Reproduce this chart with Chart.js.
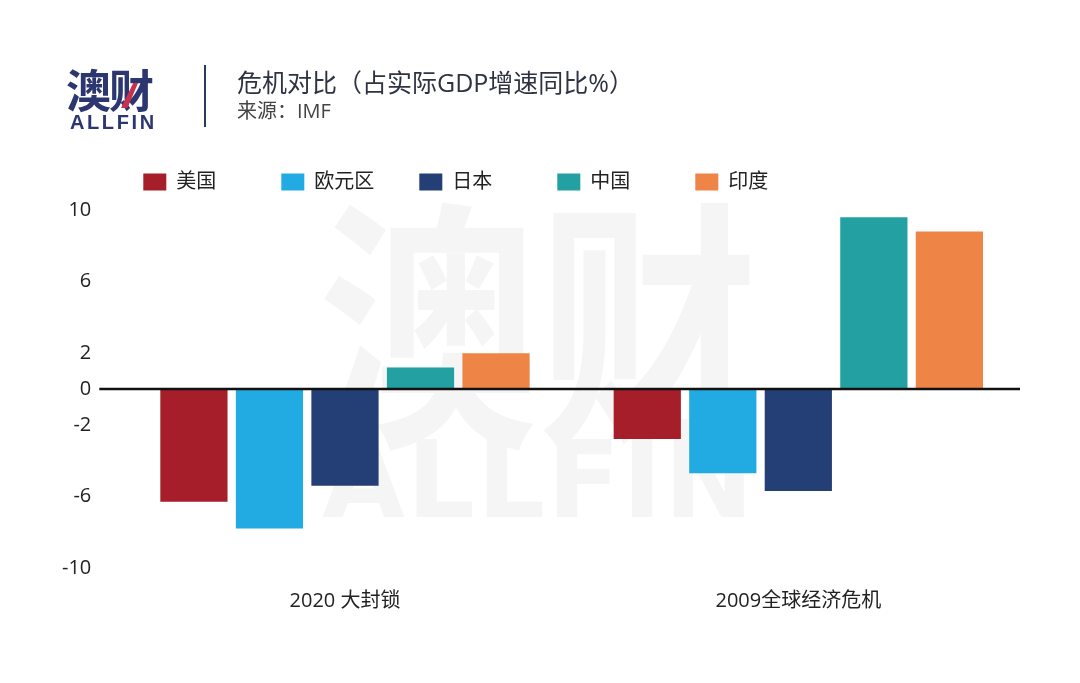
<!DOCTYPE html>
<html lang="zh">
<head>
<meta charset="utf-8">
<script src="https://cdn.jsdelivr.net/npm/chart.js@4.4.1/dist/chart.umd.min.js"></script>
<style>
  body { margin: 0; background: #fff; }
  #wrap { position: relative; width: 1080px; height: 683px; overflow: hidden; font-family: 'Open Sans', 'Noto Sans CJK SC', sans-serif; }
  #chart { position: absolute; left: 0; top: 0; z-index: 1; }
  .wm { position: absolute; color: #f5f5f5; z-index: 0; line-height: 1; white-space: nowrap; }
  .wm1 { left: 318px; top: 121px; font: bold 220px 'Noto Sans CJK SC'; transform: scaleY(1.2); transform-origin: top left; }
  .wm2 { left: 322px; top: 418px; font: bold 107px 'DejaVu Sans'; letter-spacing: 2px; }
  .hd { position: absolute; z-index: 2; white-space: nowrap; line-height: 1; }
  .logo { left: 66px; top: 56px; font: bold 45px 'Noto Sans CJK SC'; color: #2c3670; letter-spacing: -2px; }
  .logo-en { left: 70px; top: 111px; font: bold 20px 'Liberation Sans'; color: #2c3670; letter-spacing: 2.6px; }
  .tick { left: 121px; top: 83px; width: 17px; height: 25px; background: #c8304f; clip-path: polygon(72% 0, 100% 0, 38% 100%, 0 100%); }
  .bar { left: 204px; top: 65px; width: 2px; height: 62px; background: #2c3a5c; }
  .title { left: 237px; top: 70px; font-size: 25px; color: #2f3242; }
  .src { left: 237px; top: 101px; font-size: 20px; color: #444; }
</style>
</head>
<body>
<div id="wrap">
  <div class="wm wm1">澳财</div>
  <div class="wm wm2">ALLFIN</div>
  <canvas id="chart" width="1080" height="683"></canvas>
  <div class="hd logo">澳财</div>
  <div class="hd tick"></div>
  <div class="hd logo-en">ALLFIN</div>
  <div class="hd bar"></div>
  <div class="hd title">危机对比（占实际GDP增速同比%）</div>
  <div class="hd src">来源：IMF</div>
</div>
<script>
// values
const categories = ['2020 大封锁', '2009全球经济危机'];
const seriesNames = ['美国', '欧元区', '日本', '中国', '印度'];
const usa = [-6.3, -2.8];
const euro = [-7.8, -4.7];
const japan = [-5.4, -5.7];
const china = [1.2, 9.6];
const india = [2.0, 8.8];
const yTicks = [10, 6, 2, 0, -2, -6, -10];
const colors = ['#a61e29', '#22abe2', '#233f76', '#22a0a2', '#ee8446'];

Chart.defaults.font.family = "'Open Sans', 'Noto Sans CJK SC', sans-serif";
Chart.defaults.color = '#222';

// a bit more room between legend and plot
const legendGap = {
  id: 'legendGap',
  beforeInit(chart) {
    const fit = chart.legend.fit;
    chart.legend.fit = function () {
      fit.call(this);
      this.height += 8;
    };
  }
};

// black baseline at 0, drawn over the bars
const zeroLine = {
  id: 'zeroLine',
  afterDatasetsDraw(chart) {
    const { ctx, chartArea, scales } = chart;
    const y = scales.y.getPixelForValue(0);
    ctx.save();
    ctx.strokeStyle = '#111';
    ctx.lineWidth = 2.5;
    ctx.beginPath();
    ctx.moveTo(chartArea.left - 19, y);
    ctx.lineTo(chartArea.right - 5, y);
    ctx.stroke();
    ctx.restore();
  }
};

const values = [usa, euro, japan, china, india];

new Chart(document.getElementById('chart'), {
  type: 'bar',
  data: {
    labels: categories,
    datasets: seriesNames.map((name, i) => ({
      label: name,
      data: values[i],
      backgroundColor: colors[i],
      borderWidth: 0,
      categoryPercentage: 0.833,
      barPercentage: 0.89
    }))
  },
  options: {
    responsive: false,
    animation: false,
    devicePixelRatio: 1,
    events: [],
    layout: { padding: { top: 147, left: 35, right: 55, bottom: 49 } },
    plugins: {
      tooltip: { enabled: false },
      legend: {
        position: 'top',
        align: 'start',
        fullSize: false,
        labels: {
          boxWidth: 23,
          boxHeight: 17,
          padding: 25,
          color: '#222',
          font: { size: 20 },
          generateLabels(chart) {
            const items = Chart.defaults.plugins.legend.labels.generateLabels(chart);
            items.forEach(it => { it.text = it.text.padEnd(4, '\u3000'); });
            return items;
          }
        }
      }
    },
    scales: {
      x: {
        grid: { display: false, drawTicks: false },
        border: { display: false },
        ticks: { padding: 21, color: '#222', font: { size: 20 } }
      },
      y: {
        min: -10,
        max: 10,
        afterBuildTicks(scale) { scale.ticks = yTicks.map(v => ({ value: v })); },
        grid: { display: false, drawTicks: false },
        border: { display: false },
        ticks: { padding: 27, color: '#222', font: { size: 20 } }
      }
    }
  },
  plugins: [legendGap, zeroLine]
});
</script>
</body>
</html>
